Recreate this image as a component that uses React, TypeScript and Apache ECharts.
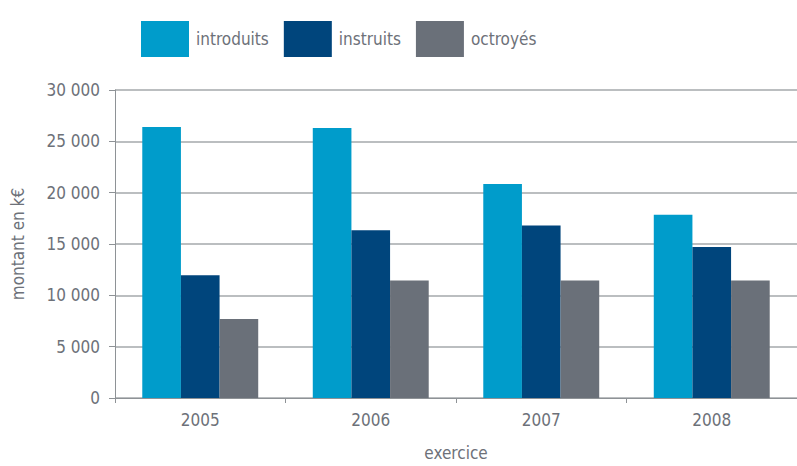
import React, { useEffect, useRef } from "react";
import * as echarts from "echarts";

const categories = ["2005", "2006", "2007", "2008"];
const introduits = [26400, 26300, 20850, 17850];
const instruits = [11950, 16350, 16800, 14700];
const octroyes = [7700, 11450, 11450, 11450];
const seriesNames = ["introduits", "instruits", "octroyés"];
const colors = ["#009ccb", "#00457c", "#6a7079"];

const FONT = "DejaVu Sans Condensed";
const TEXT = "#6d7179";

export default function App() {
  const ref = useRef<HTMLDivElement>(null);
  useEffect(() => {
    if (!ref.current) return;
    const chart = echarts.init(ref.current, undefined, { renderer: "svg" });
    const fmt = (v: number) => {
      if (v === 0) return "0";
      const th = Math.floor(v / 1000);
      const rest = String(v % 1000).padStart(3, "0");
      return th + " " + rest;
    };
    const data = [introduits, instruits, octroyes];
    chart.setOption({
      animation: false,
      textStyle: { fontFamily: FONT, color: TEXT },
      legend: {
        left: 136,
        top: 16,
        itemWidth: 48,
        itemHeight: 36,
        itemGap: 15,
        icon: "rect",
        textStyle: { fontFamily: FONT, fontSize: 17, color: TEXT, padding: [0, 0, 0, 2] },
        data: seriesNames,
      },
      grid: { left: 115, right: 0, top: 90, bottom: 62, containLabel: false },
      xAxis: {
        type: "category",
        data: categories,
        name: "exercice",
        nameLocation: "middle",
        nameGap: 46,
        nameTextStyle: { fontFamily: FONT, fontSize: 17, color: TEXT },
        axisLine: { lineStyle: { color: "#8e9296", width: 1 } },
        axisTick: { show: true, length: 5, lineStyle: { color: "#8e9296" } },
        axisLabel: { fontFamily: FONT, fontSize: 17, color: TEXT, margin: 13 },
      },
      yAxis: {
        type: "value",
        min: 0,
        max: 30000,
        interval: 5000,
        name: "montant en k€",
        nameLocation: "middle",
        nameGap: 89,
        nameRotate: 90,
        nameTextStyle: { fontFamily: FONT, fontSize: 17, color: TEXT },
        axisLine: { show: true, lineStyle: { color: "#8e9296", width: 1 } },
        axisTick: { show: true, length: 6, lineStyle: { color: "#8e9296" } },
        axisLabel: { fontFamily: FONT, fontSize: 17, color: TEXT, margin: 15, formatter: fmt },
        splitLine: { lineStyle: { color: "#a5a8ab", width: 1.5 } },
      },
      series: seriesNames.map((n, i) => ({
        name: n,
        type: "bar",
        data: data[i],
        barGap: "0%",
        barCategoryGap: "32%",
        itemStyle: { color: colors[i] },
      })),
    });
    return () => chart.dispose();
  }, []);
  return <div ref={ref} style={{ width: 797, height: 466, position: "absolute", left: 0, top: 0 }} />;
}
